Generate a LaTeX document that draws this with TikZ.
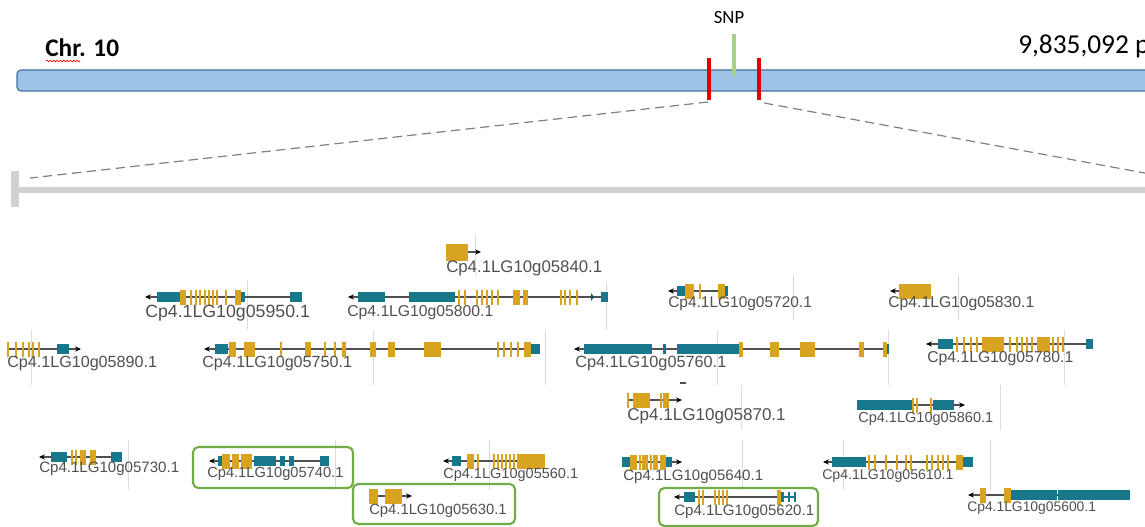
\documentclass[tikz,border=0pt]{standalone}
\usepackage{fontspec}
\setmainfont{Liberation Sans}
\newfontfamily\calib{Carlito}
\usetikzlibrary{arrows.meta,decorations.pathmorphing}

\definecolor{cdsc}{HTML}{D8A31F}
\definecolor{utrc}{HTML}{17788C}
\definecolor{chrfill}{HTML}{9DC3E6}
\definecolor{chrline}{HTML}{41719C}
\definecolor{markred}{HTML}{E00000}
\definecolor{snpgreen}{HTML}{A9D18E}
\definecolor{boxgreen}{HTML}{70AD47}
\definecolor{labgray}{HTML}{505050}

\tikzset{
  intron/.style={draw=labgray, line width=0.8pt},
  arr/.style={-{Stealth[length=4.5pt,width=4pt,color=black]}},
  lbl/.style={anchor=west, inner sep=0pt, text=labgray, font=\fontsize{#1}{#1}\selectfont},
  hit/.style={draw=boxgreen, line width=1.6pt, rounded corners=4pt},
  gridln/.style={draw=black!14, line width=0.6pt},
  zoomln/.style={draw=black!50, line width=0.9pt, dash pattern=on 7pt off 4pt},
}

% gene glyph helpers: exons, thin coding bars and transcript lines
\newcommand\cdsx[3]{\fill[cdsc] (#1,#3-7.5) rectangle (#2,#3+7.5);}
\newcommand\utrx[3]{\fill[utrc] (#1,#3-5) rectangle (#2,#3+5);}
\newcommand\cdsbar[2]{\fill[cdsc] (#1-1.4,#2-7.5) rectangle (#1+1.4,#2+7.5);}
\newcommand\tleft[3]{\draw[intron,arr] (#2,#3) -- (#1,#3);}
\newcommand\tright[3]{\draw[intron,arr] (#1,#3) -- (#2,#3);}

\begin{document}
\begin{tikzpicture}[x=0.75pt,y=-0.75pt]
\useasboundingbox (0,0) rectangle (1145,527);
\clip (0,0) rectangle (1145,527);
\fill[white] (0,0) rectangle (1145,527);

% ---- chromosome overview ----
\node[anchor=west, inner sep=0pt, font=\calib\bfseries\fontsize{19}{19}\selectfont] (chr) at (45,48) {Chr. 10};
\draw[red, line width=0.5pt, decorate, decoration={snake, amplitude=0.6pt, segment length=2.5pt}] (46,61) -- (80,61);
\node[anchor=west, inner sep=0pt, font=\calib\fontsize{20.5}{20.5}\selectfont] (len) at (1018,46) {9,835,092 pb};
\node[inner sep=0pt, font=\calib\fontsize{14}{14}\selectfont] (snp) at (729,18) {SNP};

\draw[fill=chrfill, draw=chrline, line width=0.9pt, rounded corners=3pt] (17,70) rectangle (1170,91);
\coordinate (redL) at (709,100);
\coordinate (redR) at (759,100);
\draw[markred, line width=2.6pt] (709,58) -- (redL);
\draw[markred, line width=2.6pt] (759,58) -- (redR);
\draw[snpgreen, line width=2.6pt] (snp.south) ++(5,10) coordinate (snptop) -- (734,76);

% ---- zoom lines and region scale ----
\coordinate (barL) at (30,178);
\coordinate (barR) at (1150,174);
\draw[zoomln] (708,102) -- (barL);
\draw[zoomln] (764,103) -- (barR);
\draw[black!18, line width=4.5pt] (15,190) -- (1150,190);
\draw[black!18, line width=5.5pt] (15,171) -- (15,207);

% ---- faint track grid ----
\foreach \gx/\ga/\gb in {247/280/330, 475/235/275, 606/282/330, 793/275/320, 958/275/320,
  31/330/385, 373/330/385, 545/330/385, 717/330/385, 888/330/385, 1064/330/385,
  741/385/430, 1000/385/430, 128/440/490, 335/440/490, 489/440/490, 742/440/490,
  843/440/490, 990/440/490}
  \draw[gridln] (\gx,\ga) -- (\gx,\gb);

% ---- genes ----
% Cp4.1LG10g05840.1
\tright{446}{481}{252}
\fill[cdsc] (446,244) rectangle (468,261);
\node[lbl=12.6] (g05840) at (446,268) {Cp4.1LG10g05840.1};

% Cp4.1LG10g05950.1
\tleft{145}{302}{297}
\utrx{157}{180}{297} \cdsx{180}{186}{297}
\foreach \b in {191,196,200,205,209,213,217,226} {\cdsbar{\b}{297}}
\cdsx{235}{241}{297} \utrx{241}{245}{297} \utrx{290}{302}{297}
\node[lbl=13.3] (g05950) at (145,313) {Cp4.1LG10g05950.1};

% Cp4.1LG10g05800.1
\tleft{348}{608}{297}
\utrx{358}{385}{297} \utrx{409}{455}{297}
\foreach \b in {459,465,477,482,487,492,498} {\cdsbar{\b}{297}}
\cdsx{513}{520}{297} \cdsx{523}{528}{297}
\foreach \b in {561,565,570,577} {\cdsbar{\b}{297}}
\fill[utrc!70!black] (591,293) -- (594,297) -- (591,301) -- cycle;
\utrx{601}{608}{297}
\node[lbl=11.8] (g05800) at (347,313) {Cp4.1LG10g05800.1};

% Cp4.1LG10g05720.1
\tleft{668}{728}{291}
\utrx{677}{685}{291} \cdsx{685}{694}{291} \cdsbar{700}{291} \cdsx{718}{725}{291} \utrx{725}{728}{291}
\node[lbl=11.6] (g05720) at (668,304) {Cp4.1LG10g05720.1};

% Cp4.1LG10g05830.1
\tleft{890}{931}{291}
\cdsx{899}{931}{291}
\node[lbl=11.8] (g05830) at (888,304) {Cp4.1LG10g05830.1};

% Cp4.1LG10g05890.1
\tright{8}{81}{349}
\foreach \b in {8,16,23,29,33,39} {\cdsbar{\b}{349}}
\utrx{57}{69}{349}
\node[lbl=12.1] (g05890) at (7,364) {Cp4.1LG10g05890.1};

% Cp4.1LG10g05750.1
\tleft{204}{540}{349}
\utrx{215}{228}{349} \cdsx{229}{236}{349} \cdsx{244}{255}{349} \cdsbar{281}{349}
\cdsx{305}{311}{349} \cdsbar{325}{349} \cdsbar{335}{349} \cdsx{342}{346}{349}
\cdsx{370}{376}{349} \cdsx{388}{395}{349} \cdsx{424}{441}{349}
\foreach \b in {498,504,511,518} {\cdsbar{\b}{349}}
\cdsx{524}{531}{349} \utrx{531}{540}{349}
\node[lbl=12.1] (g05750) at (202,364) {Cp4.1LG10g05750.1};

% Cp4.1LG10g05760.1
\tleft{574}{889}{349}
\utrx{584}{652}{349} \utrx{663}{666}{349} \utrx{677}{739}{349}
\cdsx{739}{743}{349} \cdsx{770}{779}{349} \cdsx{800}{815}{349}
\cdsx{859}{864}{349} \cdsx{883}{887}{349} \utrx{887}{889}{349}
\node[lbl=12.2] (g05760) at (575,364) {Cp4.1LG10g05760.1};

% Cp4.1LG10g05780.1
\tleft{926}{1093}{344}
\utrx{938}{953}{344}
\foreach \b in {957,964,971,977} {\cdsbar{\b}{344}}
\cdsx{982}{1004}{344}
\foreach \b in {1010,1017,1022,1027,1032} {\cdsbar{\b}{344}}
\cdsx{1037}{1050}{344}
\foreach \b in {1053,1058,1063} {\cdsbar{\b}{344}}
\utrx{1086}{1093}{344}
\node[lbl=11.8] (g05780) at (927,359) {Cp4.1LG10g05780.1};

% Cp4.1LG10g05870.1
\tright{628}{682}{400}
\cdsbar{628}{400} \cdsx{633}{650}{400} \cdsbar{661}{400} \cdsx{663}{669}{400}
\draw[labgray, line width=0.9pt] (680,383) -- (686,383);
\node[lbl=12.8] (g05870) at (627,416) {Cp4.1LG10g05870.1};

% Cp4.1LG10g05860.1
\tright{857}{965}{405}
\utrx{857}{913}{405} \cdsbar{913}{405} \cdsbar{917}{405} \cdsbar{931}{405} \utrx{933}{954}{405}
\node[lbl=10.9] (g05860) at (858,419) {Cp4.1LG10g05860.1};

% Cp4.1LG10g05730.1
\tleft{39}{122}{457}
\utrx{51}{67}{457} \cdsbar{72}{457} \cdsbar{76}{457} \cdsx{80}{86}{457} \cdsx{90}{96}{457}
\utrx{111}{122}{457}
\node[lbl=11.3] (g05730) at (39,469) {Cp4.1LG10g05730.1};

% Cp4.1LG10g05740.1
\tleft{209}{329}{461}
\utrx{218}{222}{461} \cdsx{222}{230}{461} \cdsx{232}{239}{461} \cdsx{241}{252}{461}
\utrx{254}{276}{461} \utrx{280}{285}{461} \utrx{289}{294}{461} \utrx{320}{329}{461}
\node[lbl=11] (g05740) at (207,474) {Cp4.1LG10g05740.1};
\draw[hit] (193,447) rectangle (353,488);

% Cp4.1LG10g05560.1
\tleft{443}{545}{461}
\utrx{452}{461}{461} \cdsx{467}{474}{461} \cdsbar{478}{461}
\foreach \b in {494,498,502,506,510,514} {\cdsbar{\b}{461}}
\cdsx{517}{545}{461}
\node[lbl=10.9] (g05560) at (443,475) {Cp4.1LG10g05560.1};

% Cp4.1LG10g05630.1
\tright{369}{412}{496}
\cdsx{369}{378}{496} \cdsx{385}{402}{496}
\node[lbl=11.1] (g05630) at (369,511) {Cp4.1LG10g05630.1};
\draw[hit] (353,484) rectangle (515,524);

% Cp4.1LG10g05640.1
\tright{622}{682}{462}
\utrx{622}{630}{462} \cdsx{630}{637}{462} \cdsbar{640}{462} \cdsx{642}{648}{462}
\cdsbar{651}{462} \cdsx{653}{658}{462} \cdsbar{661}{462} \cdsx{662}{666}{462} \utrx{666}{672}{462}
\node[lbl=11.3] (g05640) at (623,477) {Cp4.1LG10g05640.1};

% Cp4.1LG10g05610.1
\tleft{823}{973}{462}
\utrx{832}{866}{462}
\foreach \b in {869,875,886,897,906,911,927,932,938,943,948} {\cdsbar{\b}{462}}
\cdsx{956}{963}{462} \utrx{963}{973}{462}
\node[lbl=10.6] (g05610) at (822,476) {Cp4.1LG10g05610.1};

% Cp4.1LG10g05620.1
\tleft{674}{784}{497}
\utrx{684}{695}{497}
\foreach \b in {699,703,715,719,723,727} {\cdsbar{\b}{497}}
\cdsx{777}{781}{497} \utrx{781}{784}{497}
\draw[utrc, line width=0.9pt] (784,497) -- (796,497);
\fill[utrc] (788,492) rectangle (790,502);
\fill[utrc] (794,492) rectangle (796,502);
\node[lbl=11.3] (g05620) at (674,512) {Cp4.1LG10g05620.1};
\draw[hit] (659,488) rectangle (818,526);

% Cp4.1LG10g05600.1
\tleft{968}{1130}{495}
\cdsx{980}{986}{495} \cdsx{1004}{1011}{495} \utrx{1011}{1057}{495} \utrx{1058}{1130}{495}
\node[lbl=10.4] (g05600) at (967,508) {Cp4.1LG10g05600.1};
\end{tikzpicture}
\end{document}
